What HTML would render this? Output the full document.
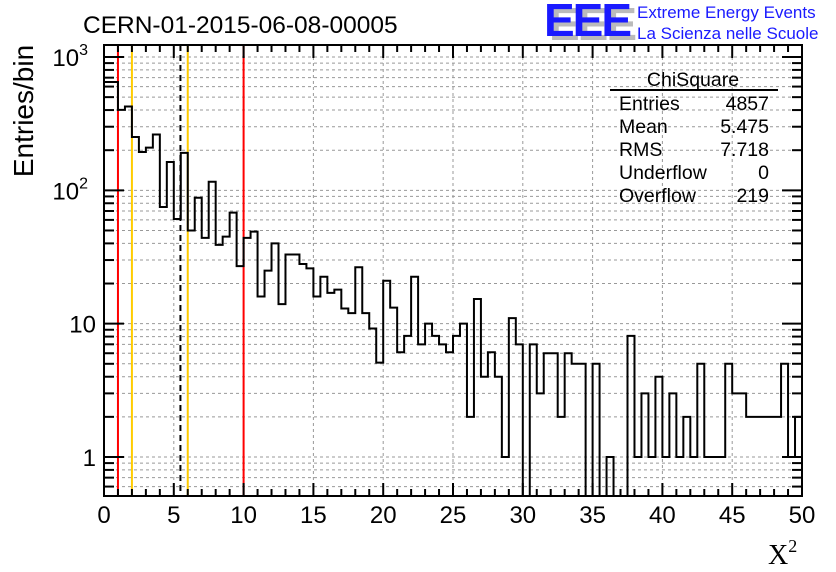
<!DOCTYPE html>
<html><head><meta charset="utf-8"><style>
body{margin:0;background:#fff;}
svg{display:block;font-family:"Liberation Sans",sans-serif;}
</style></head><body>
<svg id="chart" width="836" height="572" viewBox="0 0 836 572" xmlns="http://www.w3.org/2000/svg">
<rect width="836" height="572" fill="#fff"/>
<g id="grid"></g>
<g id="marks"></g>
<path id="hist" fill="none" stroke="#000" stroke-width="2"/>
<g id="axes"></g>
<text x="83" y="33" font-size="24.5">CERN-01-2015-06-08-00005</text>
<text transform="translate(33,111) rotate(-90)" text-anchor="middle" font-size="28">Entries/bin</text>
<text x="768" y="564" font-size="28" font-family="Liberation Serif,serif">X<tspan font-size="18" dy="-12">2</tspan></text>
<g>
<text x="549" y="40" font-size="46" font-weight="bold" fill="#bbb" letter-spacing="-2">EEE</text>
<text x="544" y="36" font-size="46" font-weight="bold" fill="#1a1aff" letter-spacing="-2">EEE</text>
<text x="637" y="18" font-size="17" fill="#1a1aff">Extreme Energy Events</text>
<text x="637" y="39" font-size="17" fill="#1a1aff">La Scienza nelle Scuole</text>
</g>
<g font-size="19.5">
<text x="693" y="86" text-anchor="middle">ChiSquare</text>
<line x1="610" y1="90" x2="778" y2="90" stroke="#000" stroke-width="2"/>
<text x="619" y="110">Entries</text><text x="769" y="110" text-anchor="end">4857</text>
<text x="619" y="133">Mean</text><text x="769" y="133" text-anchor="end">5.475</text>
<text x="619" y="156">RMS</text><text x="769" y="156" text-anchor="end">7.718</text>
<text x="619" y="179">Underflow</text><text x="769" y="179" text-anchor="end">0</text>
<text x="619" y="202">Overflow</text><text x="769" y="202" text-anchor="end">219</text>
</g>
</svg>
<script>
const counts=[650,650,401,425,251,194,209,262,75,163,61,191,50,88,44,116,39,45,68,27,44,49,16,25,40,14,33,33,28,26,16,22.5,17,18,13,12,26.5,12,9.2,5.1,21,13.2,6.1,8.1,22.5,7,10,8.1,7,6.1,8.1,10,2,15.3,4,6.1,4,1,11,7,0,7,3,6,6,2,6,5,5,0,5,0,1,0,0,8.1,1,3,1,4,1,3,1,2,1,5,1,1,1,5,3,3,2,2,2,2,2,5,1,2];
const binWidth=0.5;
const xTicks=[0,5,10,15,20,25,30,35,40,45,50];
const yDecades=[1,10,100,1000];
const yLabels=["1","10","10","10"];
const ySup=["","","2","3"];
const markerX=[1,10,2,6,5.475];
const markerColor=["#f00","#f00","#fc0","#fc0","#000"];
const X0=104,X1=802,Y0=496,Y1=45,XMIN=0,XMAX=50;
const LMIN=Math.log10(1)-(496-457)/133.3, LMAX=3+(57-45)/133.3;
const sx=v=>X0+(v-XMIN)/(XMAX-XMIN)*(X1-X0);
const sy=v=>{if(v<=0)return Y0;const l=Math.log10(v);return Y0-(l-LMIN)/(LMAX-LMIN)*(Y0-Y1);};
const NS="http://www.w3.org/2000/svg";
function mk(tag,attrs,parent){const e=document.createElementNS(NS,tag);for(const k in attrs)e.setAttribute(k,attrs[k]);parent.appendChild(e);return e;}
const grid=document.getElementById('grid'),axes=document.getElementById('axes'),marks=document.getElementById('marks');
for(const t of xTicks){if(t===XMIN||t===XMAX)continue;const l=mk('line',{x1:sx(t),x2:sx(t),y1:Y1,y2:Y0,stroke:'#999','stroke-dasharray':'3,3'},grid);

}
const yMinorVals=[];
for(let d=0.1;d<=1000;d*=10){for(let m=1;m<10;m++){const v=Math.round(d*m*1000)/1000;const y=sy(v);if(y<Y1||y>Y0)continue;yMinorVals.push(v);
const l=mk('line',{x1:X0,x2:X1,y1:y,y2:y,stroke:'#999','stroke-dasharray':'3,3'},grid);

}}
markerX.forEach((v,i)=>{const l=mk('line',{x1:sx(v),x2:sx(v),y1:Y1,y2:Y0,stroke:markerColor[i],'stroke-width':2},marks);
if(i===4)l.setAttribute('stroke-dasharray','6,4');

});
let d='M'+X0+' '+Y0;
counts.forEach((c,i)=>{const xa=sx(i*binWidth),xb=sx((i+1)*binWidth),y=sy(c);d+=' L'+xa+' '+y+' L'+xb+' '+y;});
d+=' L'+X1+' '+Y0;
document.getElementById('hist').setAttribute('d',d);
const fr=mk('rect',{x:X0,y:Y1,width:X1-X0,height:Y0-Y1,fill:'none',stroke:'#000','stroke-width':2},axes);


for(let v=XMIN;v<=XMAX;v++){const maj=v%5===0;const len=maj?13:7;const x=sx(v);
mk('line',{x1:x,x2:x,y1:Y0,y2:Y0-len,stroke:'#000','stroke-width':2},axes);
mk('line',{x1:x,x2:x,y1:Y1,y2:Y1+len,stroke:'#000','stroke-width':2},axes);}
xTicks.forEach(t=>{const tx=mk('text',{x:sx(t),y:523,'text-anchor':'middle','font-size':24},axes);tx.textContent=t;

});
yMinorVals.forEach(v=>{const maj=yDecades.includes(v);const len=maj?20:10;const y=sy(v);
mk('line',{x1:X0,x2:X0+len,y1:y,y2:y,stroke:'#000','stroke-width':2},axes);
mk('line',{x1:X1,x2:X1-len,y1:y,y2:y,stroke:'#000','stroke-width':2},axes);});
yDecades.forEach((v,i)=>{const tx=mk('text',{x:ySup[i]?88:96,y:sy(v)+9,'text-anchor':'end','font-size':24},axes);tx.textContent=yLabels[i];
if(ySup[i]){const s=mk('tspan',{'font-size':16,dy:-11},tx);s.textContent=ySup[i];}

});
</script>
</body></html>
